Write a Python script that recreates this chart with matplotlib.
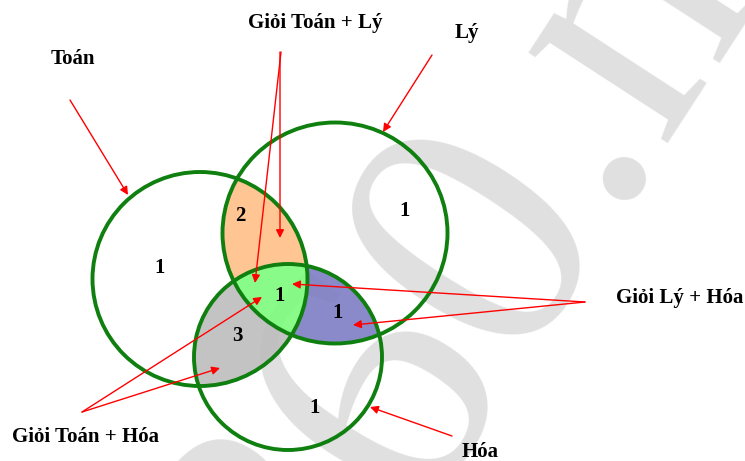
import numpy as np
import matplotlib.pyplot as plt
from matplotlib.patches import Ellipse
from matplotlib.colors import to_rgba

# circles (centre x, centre y, width, height) in picture pixels
sets = ['Toán', 'Lý', 'Hóa']
cx = [200, 335, 288]
cy = [279, 233, 357]
wd = [215, 225, 188]
ht = [214, 221, 186]

# region counts and where they are written
counts = [1, 2, 1, 1, 1, 3, 1]
count_x = [160, 240, 405, 280, 338, 237, 315]
count_y = [268, 216, 211, 296, 313, 336, 408]

# labels and the arrows pointing from them
labels = ['Toán', 'Giỏi Toán + Lý', 'Lý', 'Giỏi Lý + Hóa', 'Giỏi Toán + Hóa', 'Hóa']
label_x = [73, 315, 467, 680, 85, 480]
label_y = [59, 23, 33, 298, 437, 452]
arrows = [
    [(70, 100), (128, 195)],
    [(280, 52), (280, 238)],
    [(281, 52), (255, 283)],
    [(432, 55), (383, 132)],
    [(585, 302), (292, 284)],
    [(585, 302), (353, 325)],
    [(82, 412), (262, 297)],
    [(82, 412), (220, 368)],
    [(452, 436), (370, 407)],
]

fig = plt.figure(figsize=(7.45, 4.61), dpi=100)
ax = fig.add_axes([0, 0, 1, 1])
ax.set_xlim(0, 745)
ax.set_ylim(461, 0)
ax.set_axis_off()

# watermark, big rotated serif text
ax.text(312, 663, '360.n', fontsize=260, color='#e0e0e0', rotation=57,
        rotation_mode='anchor', ha='left', va='baseline',
        family='Liberation Serif', zorder=0, clip_on=True)

# fill intersections on a grid
xs = np.arange(0, 745) + 0.5
ys = np.arange(0, 461) + 0.5
X, Y = np.meshgrid(xs, ys)
inside = []
for i in range(3):
    inside.append(((X - cx[i]) / (wd[i] / 2)) ** 2 + ((Y - cy[i]) / (ht[i] / 2)) ** 2 <= 1)
T, L, H = inside
img = np.zeros((461, 745, 4))
img[T & L & ~H] = to_rgba('#FFBF86', 0.9)
img[T & H & ~L] = to_rgba('#BDBDBD', 0.9)
img[L & H & ~T] = to_rgba('#7D7DC4', 0.9)
img[T & L & H] = to_rgba('#7CFB7C', 0.9)
ax.imshow(img, extent=(0, 745, 461, 0), interpolation='nearest', zorder=1)

for i in range(3):
    ax.add_patch(Ellipse((cx[i], cy[i]), wd[i], ht[i], fill=False,
                         edgecolor='#0F7F0F', lw=2.8, zorder=3))

font = dict(family='Liberation Serif', weight='bold', color='black')
for n, x, y in zip(counts, count_x, count_y):
    ax.text(x, y, str(n), fontsize=15, ha='center', va='center', zorder=4, **font)

for s, x, y in zip(labels, label_x, label_y):
    ax.text(x, y, s, fontsize=15, ha='center', va='center', zorder=4, **font)

for start, end in arrows:
    ax.annotate('', xy=end, xytext=start, zorder=5,
                arrowprops=dict(arrowstyle='-|>', color='red', lw=1,
                                mutation_scale=12, shrinkA=0, shrinkB=0))

fig.savefig('out.png', dpi=100)
